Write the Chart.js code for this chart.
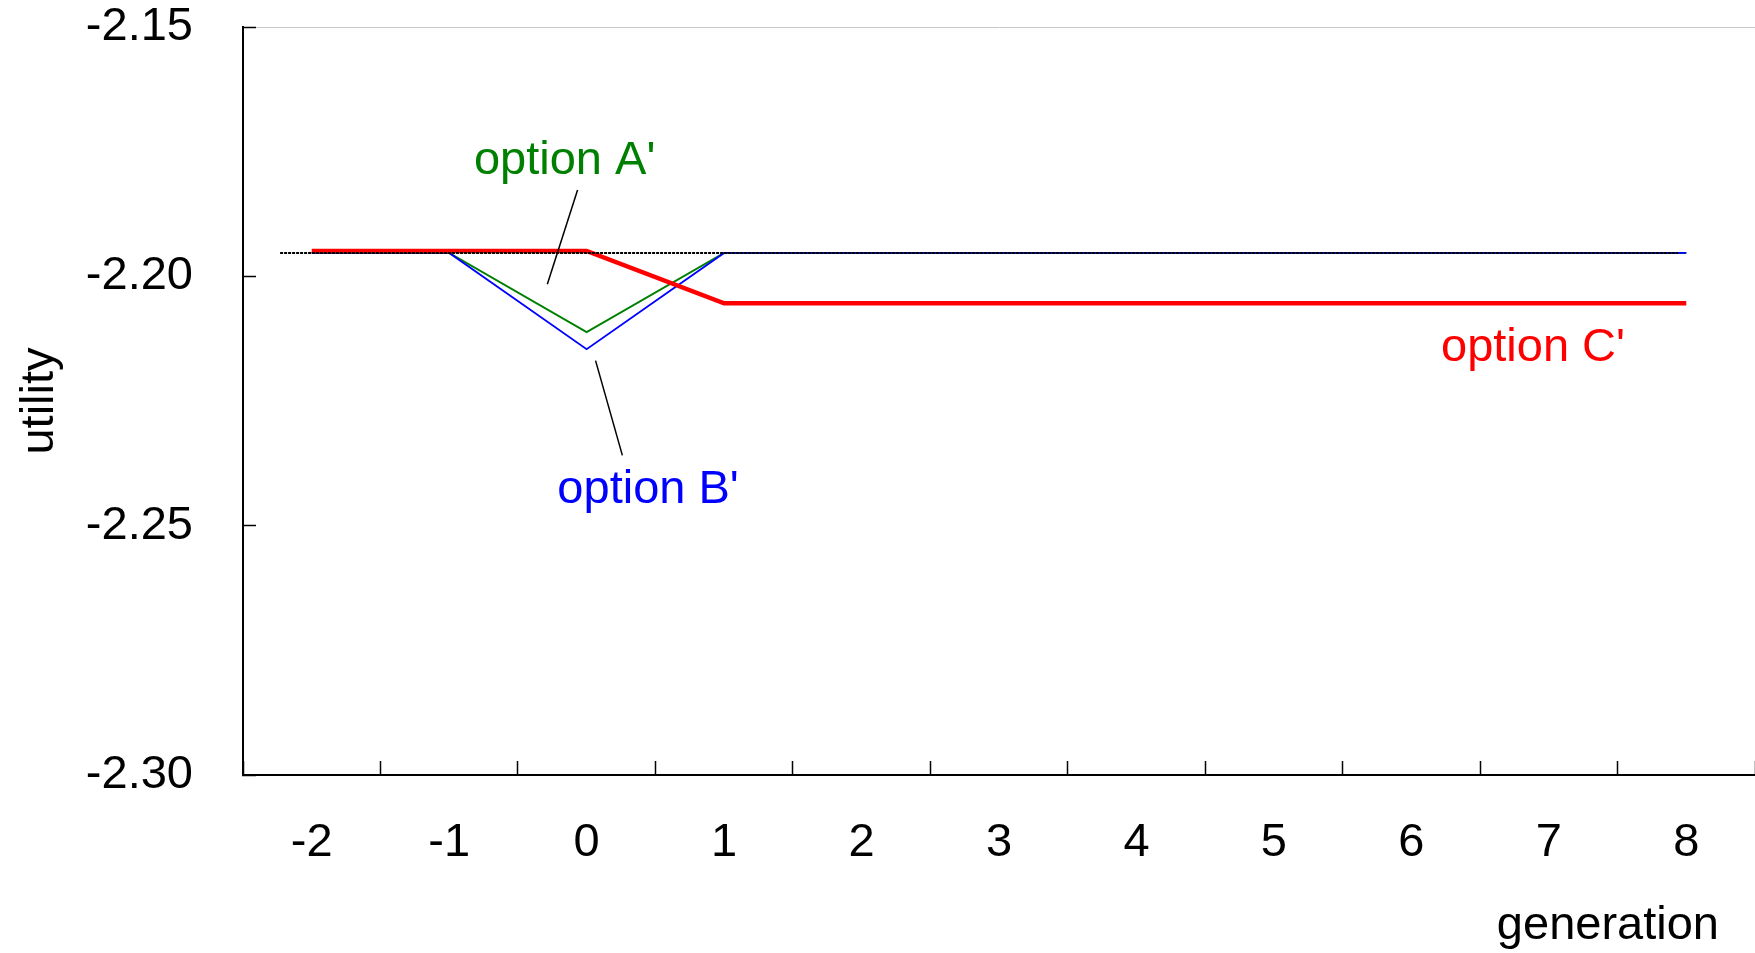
<!DOCTYPE html>
<html>
<head>
<meta charset="utf-8">
<script src="https://cdn.jsdelivr.net/npm/chart.js@4/dist/chart.umd.min.js"></script>
<style>
  html, body { margin: 0; padding: 0; background: #fff; }
  canvas { display: block; }
</style>
</head>
<body>
<canvas id="chart" width="1755" height="953"></canvas>
<script>
const genLabels = ['-2', '-1', '0', '1', '2', '3', '4', '5', '6', '7', '8']
const generations = [-2, -1, 0, 1, 2, 3, 4, 5, 6, 7, 8]
const utilityTicks = [-2.30, -2.25, -2.20, -2.15]

const optionA = [-2.1953, -2.1953, -2.2112, -2.1953, -2.1953, -2.1953, -2.1953, -2.1953, -2.1953, -2.1953, -2.1953]
const optionB = [-2.1953, -2.1953, -2.2146, -2.1953, -2.1953, -2.1953, -2.1953, -2.1953, -2.1953, -2.1953, -2.1953]
const optionC = [-2.1949, -2.1949, -2.1949, -2.2054, -2.2054, -2.2054, -2.2054, -2.2054, -2.2054, -2.2054, -2.2054]

// dotted reference level, it does not span the full range
const refX = [-2.23, 7.94]
const refY = [-2.1953, -2.1953]

const FONT = '47px "Liberation Sans", Arial, sans-serif'

// callout texts (baseline at y) and their leader lines, in data units
const notes = [
  { text: "option A'", color: '#008000', x: -0.16, y: -2.1794, line: [[-0.066, -2.1827], [-0.286, -2.2016]] },
  { text: "option B'", color: '#0000ff', x: 0.447, y: -2.2454, line: [[0.065, -2.2169], [0.26, -2.2359]] },
  { text: "option C'", color: '#ff0000', x: 6.885, y: -2.2169 },
]

const toPoints = (xs, ys) => xs.map((x, i) => ({ x, y: ys[i] }))

const notesPlugin = {
  id: 'notes',
  afterDraw(chart) {
    const { ctx } = chart
    const { xl, y, x } = chart.scales
    ctx.save()
    ctx.font = FONT
    ctx.textBaseline = 'alphabetic'
    notes.forEach(n => {
      if (n.line) {
        ctx.strokeStyle = '#000'
        ctx.lineWidth = 1.5
        ctx.beginPath()
        ctx.moveTo(xl.getPixelForValue(n.line[0][0]), y.getPixelForValue(n.line[0][1]))
        ctx.lineTo(xl.getPixelForValue(n.line[1][0]), y.getPixelForValue(n.line[1][1]))
        ctx.stroke()
      }
      ctx.fillStyle = n.color
      ctx.textAlign = 'center'
      ctx.fillText(n.text, xl.getPixelForValue(n.x), y.getPixelForValue(n.y))
    })
    // x axis title sits at the right end, under the tick labels
    ctx.fillStyle = '#000'
    ctx.textAlign = 'right'
    ctx.fillText('generation', x.right - 36, x.bottom - 14)
    ctx.restore()
  },
}

new Chart(document.getElementById('chart'), {
  type: 'line',
  data: {
    datasets: [
      {
        data: toPoints(refX, refY),
        borderColor: '#000',
        borderWidth: 2,
        borderDash: [3, 1],
      },
      {
        data: toPoints(generations, optionC),
        borderColor: '#ff0000',
        borderWidth: 4.5,
      },
      {
        data: toPoints(generations, optionB),
        borderColor: '#0000ff',
        borderWidth: 1.8,
      },
      {
        data: toPoints(generations, optionA),
        borderColor: '#008000',
        borderWidth: 2,
      },
    ].map(d => ({ ...d, xAxisID: 'xl', yAxisID: 'y', pointRadius: 0, tension: 0, borderJoinStyle: 'miter', fill: false })),
  },
  options: {
    responsive: false,
    animation: false,
    devicePixelRatio: 1,
    layout: { padding: { top: 27, right: 0, left: 0, bottom: 0 } },
    plugins: {
      legend: { display: false },
      tooltip: { enabled: false },
    },
    scales: {
      x: {
        type: 'category',
        labels: genLabels,
        offset: true,
        grid: {
          offset: true,
          drawOnChartArea: false,
          tickLength: -14,
          tickColor: '#000',
          tickWidth: 1.5,
        },
        border: { display: true, color: '#000', width: 2 },
        ticks: {
          color: '#000',
          padding: 54,
          maxRotation: 0,
          autoSkip: false,
          font: { family: '"Liberation Sans", Arial, sans-serif', size: 47, lineHeight: 1.2 },
        },
        afterFit: s => { s.height = 178; s.paddingLeft = 0; s.paddingRight = 0 },
      },
      xl: {
        type: 'linear',
        display: false,
        min: -2.5,
        max: 8.5,
      },
      y: {
        type: 'linear',
        min: -2.30,
        max: -2.15,
        afterBuildTicks: s => { s.ticks = utilityTicks.map(value => ({ value })) },
        grid: {
          drawOnChartArea: true,
          color: c => (c.index === utilityTicks.length - 1 ? '#c8c8c8' : 'rgba(0,0,0,0)'),
          lineWidth: 1,
          tickLength: -13,
          tickColor: '#000',
          tickWidth: 1.5,
        },
        border: { display: true, color: '#000', width: 2 },
        ticks: {
          color: '#000',
          padding: 63,
          callback: v => v.toFixed(2),
          font: { family: '"Liberation Sans", Arial, sans-serif', size: 47, lineHeight: 1 },
        },
        title: {
          display: true,
          text: 'utility',
          color: '#000',
          padding: { top: 17, bottom: 0 },
          font: { family: '"Liberation Sans", Arial, sans-serif', size: 47, lineHeight: 1 },
        },
        afterFit: s => { s.width = 243; s.paddingTop = 0; s.paddingBottom = 0 },
      },
    },
  },
  plugins: [notesPlugin],
})
</script>
</body>
</html>
